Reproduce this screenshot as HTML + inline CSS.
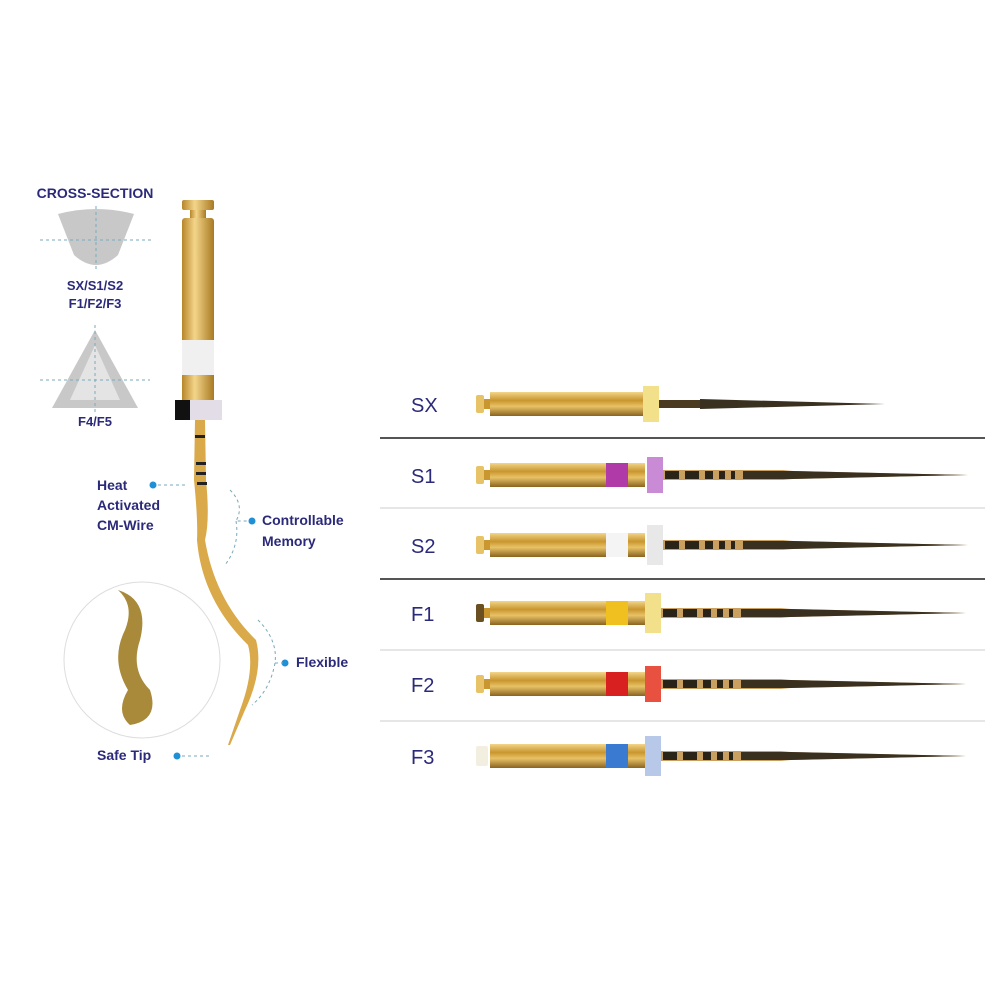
<!DOCTYPE html>
<html><head><style>body{margin:0;background:#fff}svg{display:block}</style></head><body>
<svg width="1000" height="1000" viewBox="0 0 1000 1000" xmlns="http://www.w3.org/2000/svg" font-family="Liberation Sans, sans-serif">
<defs>
<linearGradient id="g" x1="0" y1="0" x2="0" y2="1"><stop offset="0" stop-color="#f3d58a"/><stop offset="0.35" stop-color="#c9962f"/><stop offset="0.6" stop-color="#e8c266"/><stop offset="1" stop-color="#8a6420"/></linearGradient>
<linearGradient id="gv" x1="0" y1="0" x2="1" y2="0"><stop offset="0" stop-color="#b8862a"/><stop offset="0.4" stop-color="#f3d58a"/><stop offset="1" stop-color="#a87a24"/></linearGradient>
<g id="blade">
<path d="M0 -5 L120 -5 L130 -4 L305 0 L130 4 L120 5 L0 5 Z" fill="#c9a060"/>
<rect x="2" y="-4" width="14" height="8" fill="#2a2418"/><rect x="22" y="-4" width="14" height="8" fill="#2a2418"/><rect x="42" y="-4" width="8" height="8" fill="#2a2418"/><rect x="56" y="-4" width="6" height="8" fill="#2a2418"/><rect x="68" y="-4" width="4" height="8" fill="#2a2418"/>
<path d="M80 -4 L130 -4 L305 0 L130 4 L80 4 Z" fill="#3a3020"/>
</g>
</defs>
<text x="95" y="198" font-size="14" font-weight="bold" fill="#2b2a7a" text-anchor="middle">CROSS-SECTION</text>
<path d="M58 214 Q96 204 134 214 L118 255 Q96 275 74 255 Z" fill="#c8c8c8"/>
<line x1="40" y1="240" x2="152" y2="240" stroke="#7ab" stroke-dasharray="3,3"/>
<line x1="96" y1="206" x2="96" y2="272" stroke="#7ab" stroke-dasharray="3,3"/>
<text x="95" y="290" font-size="13" font-weight="bold" fill="#2b2a7a" text-anchor="middle">SX/S1/S2</text>
<text x="95" y="308" font-size="13" font-weight="bold" fill="#2b2a7a" text-anchor="middle">F1/F2/F3</text>
<path d="M95 330 L138 408 L52 408 Z" fill="#c8c8c8"/>
<path d="M95 345 L120 400 L70 400 Z" fill="#e4e4e4"/>
<line x1="40" y1="380" x2="150" y2="380" stroke="#7ab" stroke-dasharray="3,3"/>
<line x1="95" y1="325" x2="95" y2="412" stroke="#7ab" stroke-dasharray="3,3"/>
<text x="95" y="426" font-size="13" font-weight="bold" fill="#2b2a7a" text-anchor="middle">F4/F5</text>
<rect x="182" y="200" width="32" height="10" rx="2" fill="url(#gv)"/>
<rect x="190" y="210" width="16" height="8" fill="url(#gv)"/>
<rect x="182" y="218" width="32" height="130" rx="3" fill="url(#gv)"/>
<rect x="182" y="340" width="32" height="35" fill="#f0f0f0"/>
<rect x="182" y="375" width="32" height="25" fill="url(#gv)"/>
<rect x="175" y="400" width="47" height="20" fill="#e2dde6"/>
<rect x="175" y="400" width="15" height="20" fill="#111"/>
<path d="M195 420 L205 420 L206 480 Q210 520 205 540 Q215 600 256 640 Q264 670 245 710 L230 745 L228 745 L240 710 Q255 670 248 645 Q202 600 197 540 Q198 520 194 480 Z" fill="#d9a94a"/>
<rect x="195" y="435" width="10" height="3" fill="#222"/><rect x="196" y="462" width="10" height="3" fill="#222"/><rect x="196" y="472" width="10" height="3" fill="#222"/><rect x="197" y="482" width="10" height="3" fill="#222"/>
<g font-size="14" font-weight="bold" fill="#2b2a7a">
<text x="97" y="490">Heat</text><text x="97" y="510">Activated</text><text x="97" y="530">CM-Wire</text>
<text x="262" y="525">Controllable</text><text x="262" y="546">Memory</text>
<text x="296" y="667">Flexible</text>
<text x="97" y="760">Safe Tip</text>
</g>
<g fill="#1f8fd6"><circle cx="153" cy="485" r="3.5"/><circle cx="252" cy="521" r="3.5"/><circle cx="285" cy="663" r="3.5"/><circle cx="177" cy="756" r="3.5"/></g>
<g stroke="#7ab" stroke-dasharray="3,3" fill="none">
<path d="M158 485 L185 485"/><path d="M230 490 Q245 505 236 521 L250 521"/><path d="M236 521 Q240 545 225 565"/>
<path d="M258 620 Q278 640 275 663 L283 663"/><path d="M275 663 Q270 690 252 705"/><path d="M182 756 L210 756"/>
</g>
<circle cx="142" cy="660" r="78" fill="none" stroke="#ddd"/>
<path d="M118 590 Q150 600 140 640 Q130 670 150 690 Q160 720 130 725 Q115 712 128 690 Q110 660 125 630 Q135 605 118 590 Z" fill="#a88a3a"/>
<line x1="380" y1="438" x2="985" y2="438" stroke="#555" stroke-width="2"/>
<line x1="380" y1="508" x2="985" y2="508" stroke="#ddd" stroke-width="1.5"/>
<line x1="380" y1="579" x2="985" y2="579" stroke="#555" stroke-width="2"/>
<line x1="380" y1="650" x2="985" y2="650" stroke="#ddd" stroke-width="1.5"/>
<line x1="380" y1="721" x2="985" y2="721" stroke="#ddd" stroke-width="1.5"/>
<g font-size="20" fill="#2b2a7a">
<text x="411" y="412">SX</text><text x="411" y="483">S1</text><text x="411" y="553">S2</text><text x="411" y="621">F1</text><text x="411" y="692">F2</text><text x="411" y="764">F3</text>
</g>
<g transform="translate(0,404)">
<rect x="476" y="-9" width="8" height="18" rx="2" fill="#e8c266"/><rect x="484" y="-5" width="6" height="10" fill="#c9962f"/>
<rect x="490" y="-12" width="155" height="24" fill="url(#g)"/>
<rect x="643" y="-18" width="16" height="36" fill="#f3e08a"/>
<rect x="659" y="-4" width="45" height="8" fill="#4a3a20"/>
<path d="M700 -5 L885 0 L700 5 Z" fill="#3a3020"/>
</g>
<g transform="translate(0,475)">
<rect x="476" y="-9" width="8" height="18" rx="2" fill="#e8c266"/><rect x="484" y="-5" width="6" height="10" fill="#c9962f"/>
<rect x="490" y="-12" width="155" height="24" fill="url(#g)"/><rect x="606" y="-12" width="22" height="24" fill="#b03aa8"/>
<rect x="647" y="-18" width="16" height="36" fill="#c98ad6"/>
<use href="#blade" x="663"/>
</g>
<g transform="translate(0,545)">
<rect x="476" y="-9" width="8" height="18" rx="2" fill="#e8c266"/><rect x="484" y="-5" width="6" height="10" fill="#c9962f"/>
<rect x="490" y="-12" width="155" height="24" fill="url(#g)"/><rect x="606" y="-12" width="22" height="24" fill="#f4f4f4"/>
<rect x="647" y="-20" width="16" height="40" fill="#e8e8e8"/>
<use href="#blade" x="663"/>
</g>
<g transform="translate(0,613)">
<rect x="476" y="-9" width="8" height="18" rx="2" fill="#6a5020"/><rect x="484" y="-5" width="6" height="10" fill="#c9962f"/>
<rect x="490" y="-12" width="155" height="24" fill="url(#g)"/><rect x="606" y="-12" width="22" height="24" fill="#f0c020"/>
<rect x="645" y="-20" width="16" height="40" fill="#f3e08a"/>
<use href="#blade" x="661"/>
</g>
<g transform="translate(0,684)">
<rect x="476" y="-9" width="8" height="18" rx="2" fill="#e8c266"/><rect x="484" y="-5" width="6" height="10" fill="#c9962f"/>
<rect x="490" y="-12" width="155" height="24" fill="url(#g)"/><rect x="606" y="-12" width="22" height="24" fill="#d82020"/>
<rect x="645" y="-18" width="16" height="36" fill="#e85040"/>
<use href="#blade" x="661"/>
</g>
<g transform="translate(0,756)">
<rect x="476" y="-10" width="12" height="20" rx="2" fill="#f3efe0"/>
<rect x="490" y="-12" width="155" height="24" fill="url(#g)"/><rect x="606" y="-12" width="22" height="24" fill="#3a7ad0"/>
<rect x="645" y="-20" width="16" height="40" fill="#b8c8e8"/>
<use href="#blade" x="661"/>
</g>
</svg>
</body></html>
